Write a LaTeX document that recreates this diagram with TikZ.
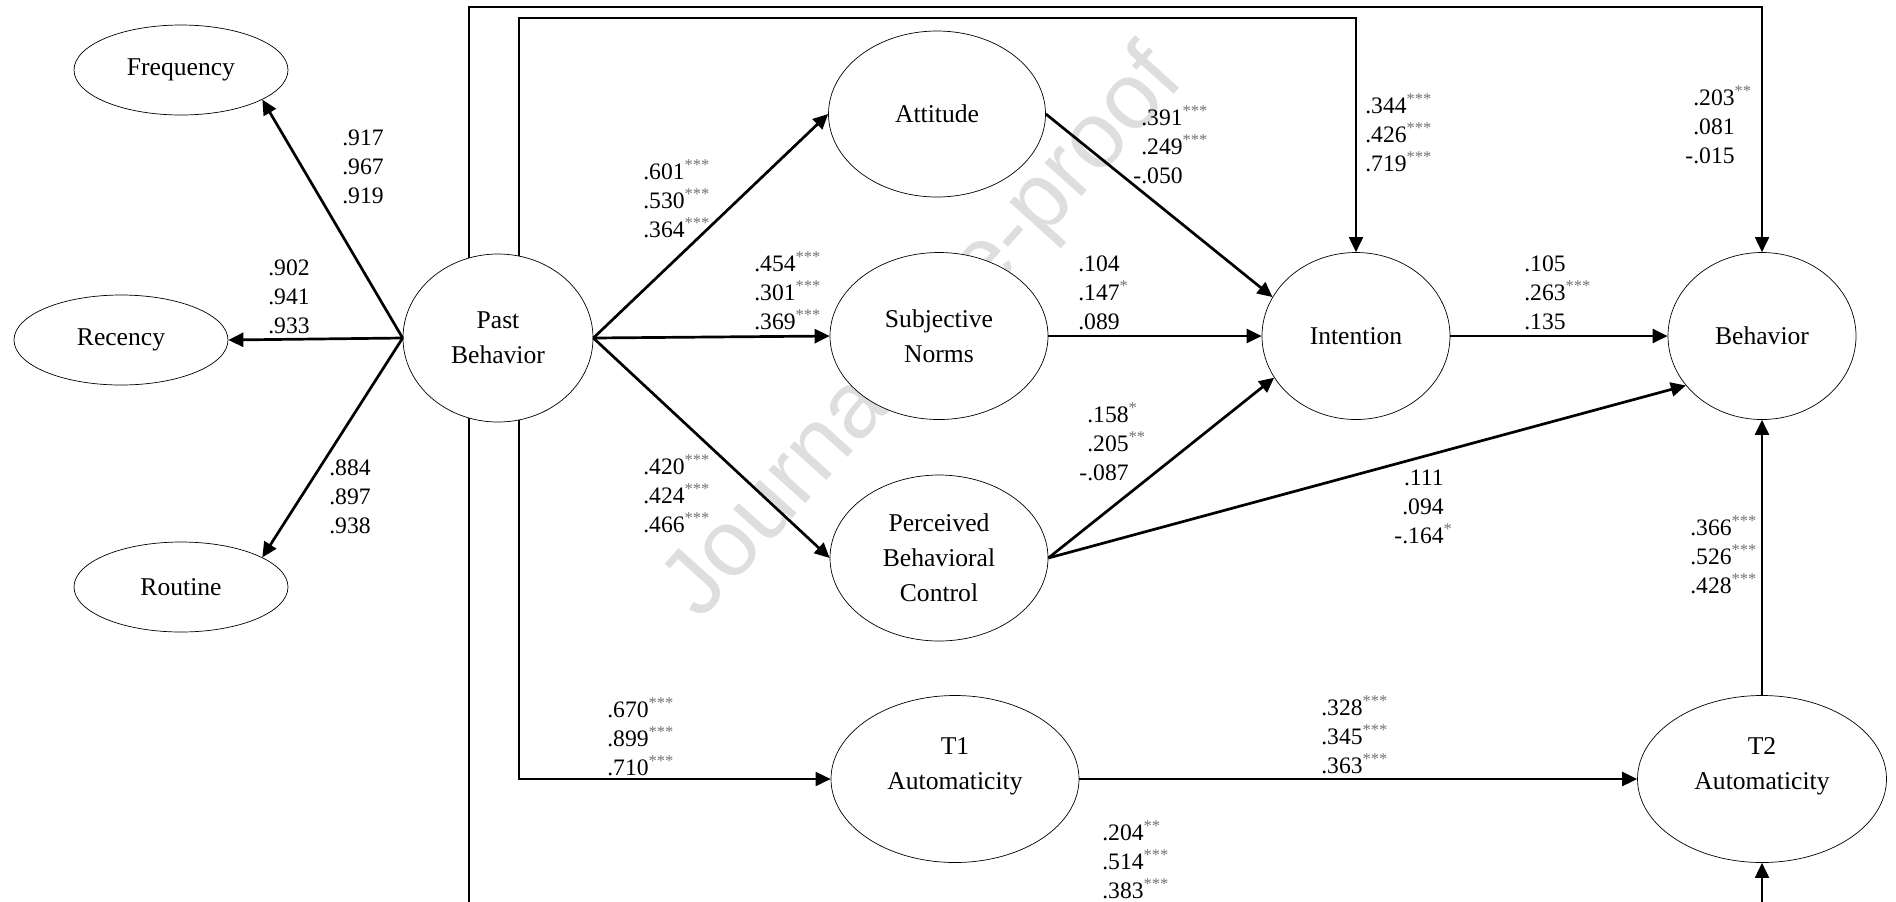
\documentclass[tikz,border=0pt]{standalone}
\usepackage{fontspec}
\setmainfont{Liberation Serif}
\newfontfamily\wmfont{Liberation Sans}
\usetikzlibrary{shapes.geometric,arrows.meta,backgrounds}
\newcommand\sg[1]{\rlap{\smash{\textsuperscript{\color{black!55}#1}}}}
\begin{document}
\begin{tikzpicture}[x=0.5pt,y=-0.5pt,
  lat/.style={ellipse, draw, line width=0.35pt, fill=white, inner sep=0pt, align=center,
    font=\fontsize{12.8}{17.5}\selectfont},
  ind/.style={lat, minimum width=107pt, minimum height=45pt},
  tipped/.style={-{Triangle[length=7.5pt,width=7pt]}},
  arr/.style={line width=1.35pt, tipped},
  conn/.style={line width=0.95pt},
  lab/.style={anchor=east, align=right, inner sep=0pt, font=\fontsize{11.8}{14.5}\selectfont},
  wm/.style={font=\wmfont\fontsize{47}{47}\selectfont, text=black!13, rotate=48, inner sep=0pt},
]
\useasboundingbox (0,0) rectangle (1896,901);
\clip (0,0) rectangle (1896,901);

% latent and indicator nodes
\node[ind] (freq) at (181,70) {Frequency};
\node[ind] (rec) at (121,340) {Recency};
\node[ind] (rout) at (181,587) {Routine};
\node[lat, minimum width=95pt, minimum height=84pt] (pb) at (498,338) {Past\\Behavior};
\node[lat, minimum width=108.5pt, minimum height=83pt] (att) at (937,114) {Attitude};
\node[lat, minimum width=109pt, minimum height=83.5pt] (sn) at (939,336) {Subjective\\Norms};
\node[lat, minimum width=109pt, minimum height=83pt] (pbc) at (939,558) {Perceived\\Behavioral\\Control};
\node[lat, minimum width=94pt, minimum height=83.5pt] (int) at (1356,336) {Intention};
\node[lat, minimum width=94pt, minimum height=83.5pt] (beh) at (1762,336) {Behavior};
\node[lat, minimum width=124pt, minimum height=83.5pt, text depth=15pt] (t1) at (955,779) {T1\\Automaticity};
\node[lat, minimum width=124.5pt, minimum height=83.5pt, text depth=15pt] (t2) at (1762,779) {T2\\Automaticity};

% watermark and long connectors behind the nodes
\begin{scope}[on background layer]
\node[wm] (wmark) at (925,335) {Journal Pre-proof};
\coordinate (ci) at (519,18);
\coordinate (co) at (469,7);
\coordinate (bo) at (469,930);
\coordinate (bt) at (1762,930);
\draw[conn, tipped] (pb.center -| ci) -- (ci) -| (int.north);
\draw[conn, tipped] (pb.center -| co) -- (co) -| (beh.north);
\draw[conn, tipped] (pb.center -| ci) |- (t1.west);
\draw[conn] (pb.center -| co) -- (bo) -- (bt);
\draw[conn, tipped] (bt) -- (t2.south);
\end{scope}

% arrows
\draw[arr] (pb.west) -- (freq.-20);
\draw[arr] (pb.west) -- (rec.east);
\draw[arr] (pb.west) -- (rout.20);
\draw[arr] (pb.east) -- (att.west);
\draw[arr] (pb.east) -- (sn.west);
\draw[arr] (pb.east) -- (pbc.west);
\draw[arr] (att.east) -- (int.155);
\draw[arr] (sn.east) -- (int.west);
\draw[arr] (pbc.east) -- (int.207);
\draw[arr] (pbc.east) -- (beh.213);
\draw[arr] (int.east) -- (beh.west);
\draw[arr] (t1.east) -- (t2.west);
\draw[arr] (t2.north) -- (beh.south);

% coefficient labels
\node[lab] (l1) at (384,167) {.917\\.967\\.919};
\node[lab] (l2) at (310,297) {.902\\.941\\.933};
\node[lab] (l3) at (371,497) {.884\\.897\\.938};
\node[lab] (l4) at (685,201) {.601\sg{***}\\.530\sg{***}\\.364\sg{***}};
\node[lab] (l5) at (796,293) {.454\sg{***}\\.301\sg{***}\\.369\sg{***}};
\node[lab] (l6) at (685,496) {.420\sg{***}\\.424\sg{***}\\.466\sg{***}};
\node[lab] (l7) at (649,739) {.670\sg{***}\\.899\sg{***}\\.710\sg{***}};
\node[lab] (l8) at (1183,147) {.391\sg{***}\\.249\sg{***}\\-.050};
\node[lab] (l9) at (1120,293) {.104\\.147\sg{*}\\.089};
\node[lab] (l10) at (1129,444) {.158\sg{*}\\.205\sg{**}\\-.087};
\node[lab] (l11) at (1407,135) {.344\sg{***}\\.426\sg{***}\\.719\sg{***}};
\node[lab] (l12) at (1735,127) {.203\sg{**}\\.081\\-.015};
\node[lab] (l13) at (1566,293) {.105\\.263\sg{***}\\.135};
\node[lab] (l14) at (1444,507) {.111\\.094\\-.164\sg{*}};
\node[lab] (l15) at (1732,557) {.366\sg{***}\\.526\sg{***}\\.428\sg{***}};
\node[lab] (l16) at (1363,737) {.328\sg{***}\\.345\sg{***}\\.363\sg{***}};
\node[lab] (l17) at (1144,862) {.204\sg{**}\\.514\sg{***}\\.383\sg{***}};
\end{tikzpicture}
\end{document}
